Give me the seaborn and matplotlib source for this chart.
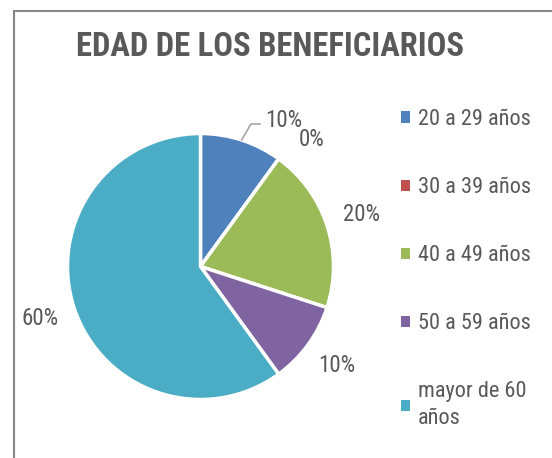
import numpy as np
import matplotlib
matplotlib.use('Agg')
import matplotlib.pyplot as plt
import matplotlib.patches as mpatches
import seaborn as sns

# Data
categories = ['20 a 29 años', '30 a 39 años', '40 a 49 años', '50 a 59 años', 'mayor de 60\naños']
values = [10, 0, 20, 10, 60]
labels = ['10%', '0%', '20%', '10%', '60%']
colors = ['#4F81BD', '#C0504D', '#9BBB59', '#8064A2', '#4BACC6']

sns.set_style('white')
plt.rcParams['font.family'] = ['Roboto Condensed', 'DejaVu Sans']
txt = '#595959'

fig = plt.figure(figsize=(5.52, 4.58), dpi=100)

# chart frame (cut off at right/bottom like the reference)
frame = mpatches.Rectangle((13.5 / 552, -0.1), 1.2, (458 - 10.5) / 458 + 0.1,
                           transform=fig.transFigure, fill=False,
                           edgecolor='#868686', linewidth=1.5)
fig.patches.append(frame)

fig.text(270 / 552, 1 - 47 / 458, 'EDAD DE LOS BENEFICIARIOS', ha='center', va='center',
         fontsize=23.5, fontweight='bold', color=txt)

ax = fig.add_axes([67.5 / 552, 58.5 / 458, 266 / 552, 266 / 458])
wedges, _ = ax.pie(values, colors=colors, startangle=90, counterclock=False,
                   wedgeprops={'edgecolor': 'white', 'linewidth': 2.5})
ax.set_xlim(-1, 1)
ax.set_ylim(-1, 1)
ax.set_aspect('equal')
ax.axis('off')

# data labels placed around the pie
for i, (w, lab) in enumerate(zip(wedges, labels)):
    mid = np.deg2rad((w.theta1 + w.theta2) / 2)
    if i == 0:
        # first label sits off to the right with a leader line
        ex, ey = np.cos(mid), np.sin(mid)
        ax.plot([ex, ex + 0.07, ex + 0.14], [ey, ey + 0.12, ey + 0.12],
                color='#A6A6A6', linewidth=1.2, clip_on=False)
        ax.text(ex + 0.18, ey + 0.15, lab, ha='left', va='center',
                fontsize=16.5, color=txt)
        continue
    ang = mid
    if i == 1:
        ang = mid - np.deg2rad(5)
    r = 1.27
    ax.text(r * np.cos(ang), r * np.sin(ang), lab, ha='center', va='center',
            fontsize=16.5, color=txt)

# legend
handles = [mpatches.Patch(facecolor=c, edgecolor='none') for c in colors]
leg = fig.legend(handles, categories, loc='upper left', bbox_to_anchor=(381 / 552, 1 - 89 / 458),
                 frameon=False, fontsize=16, labelcolor=txt, handlelength=0.4, handleheight=0.4,
                 handletextpad=0.35, labelspacing=2.12)
for t in leg.get_texts():
    t.set_linespacing(1.35)

fig.savefig('out.png', dpi=100)
